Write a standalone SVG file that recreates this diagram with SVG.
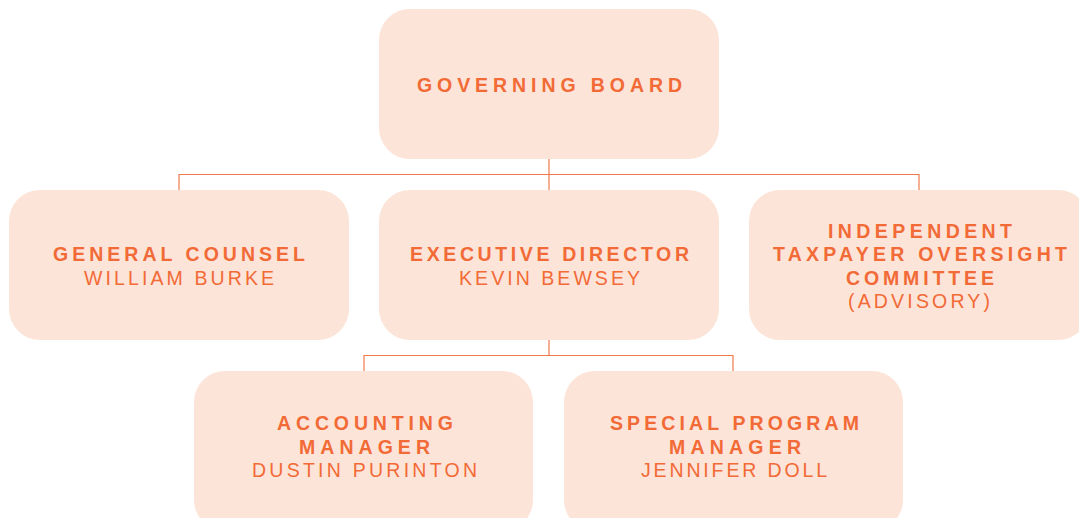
<svg xmlns="http://www.w3.org/2000/svg" width="1079" height="518" viewBox="0 0 1079 518">
<style>
.box{fill:#FDE4D8}
.t{font-family:"Liberation Sans",Arial,sans-serif;font-size:19.5px;fill:#F26A36;text-anchor:middle}
.b{font-weight:bold}
.conn{fill:none;stroke:#F07A4C;stroke-width:1.2}
</style>
<rect width="1079" height="518" fill="#FFFFFF"/>
<g id="connectors" class="conn">
<path d="M549 159V190M179 190V174.5H919V190"/>
<path d="M549 340V355.5M364 371V355.5H733V371"/>
</g>
<g id="governing-board">
<rect class="box" x="379" y="9" width="340" height="150" rx="31"/>
<text class="t b" x="549.5" y="92" textLength="265" lengthAdjust="spacing">GOVERNING BOARD</text>
</g>
<g id="general-counsel">
<rect class="box" x="9" y="190" width="340" height="150" rx="31"/>
<text class="t b" x="179" y="261" textLength="252" lengthAdjust="spacing">GENERAL COUNSEL</text>
<text class="t" x="179" y="285" textLength="190" lengthAdjust="spacing">WILLIAM BURKE</text>
</g>
<g id="executive-director">
<rect class="box" x="379" y="190" width="340" height="150" rx="31"/>
<text class="t b" x="549.5" y="261" textLength="279" lengthAdjust="spacing">EXECUTIVE DIRECTOR</text>
<text class="t" x="549.5" y="285" textLength="181" lengthAdjust="spacing">KEVIN BEWSEY</text>
</g>
<g id="itoc">
<rect class="box" x="749" y="190" width="340" height="150" rx="31"/>
<text class="t b" x="920" y="237.5" textLength="184" lengthAdjust="spacing">INDEPENDENT</text>
<text class="t b" x="920" y="261" textLength="294" lengthAdjust="spacing">TAXPAYER OVERSIGHT</text>
<text class="t b" x="920" y="284.5" textLength="148" lengthAdjust="spacing">COMMITTEE</text>
<text class="t" x="919" y="308" textLength="142" lengthAdjust="spacing">(ADVISORY)</text>
</g>
<g id="accounting-manager">
<rect class="box" x="194" y="371" width="339" height="160" rx="31"/>
<text class="t b" x="365" y="430" textLength="176" lengthAdjust="spacing">ACCOUNTING</text>
<text class="t b" x="364.5" y="454" textLength="131" lengthAdjust="spacing">MANAGER</text>
<text class="t" x="364.5" y="477" textLength="225" lengthAdjust="spacing">DUSTIN PURINTON</text>
</g>
<g id="special-program-manager">
<rect class="box" x="564" y="371" width="339" height="160" rx="31"/>
<text class="t b" x="734.5" y="430" textLength="249" lengthAdjust="spacing">SPECIAL PROGRAM</text>
<text class="t b" x="735" y="454" textLength="132" lengthAdjust="spacing">MANAGER</text>
<text class="t" x="734" y="477" textLength="186" lengthAdjust="spacing">JENNIFER DOLL</text>
</g>
</svg>
